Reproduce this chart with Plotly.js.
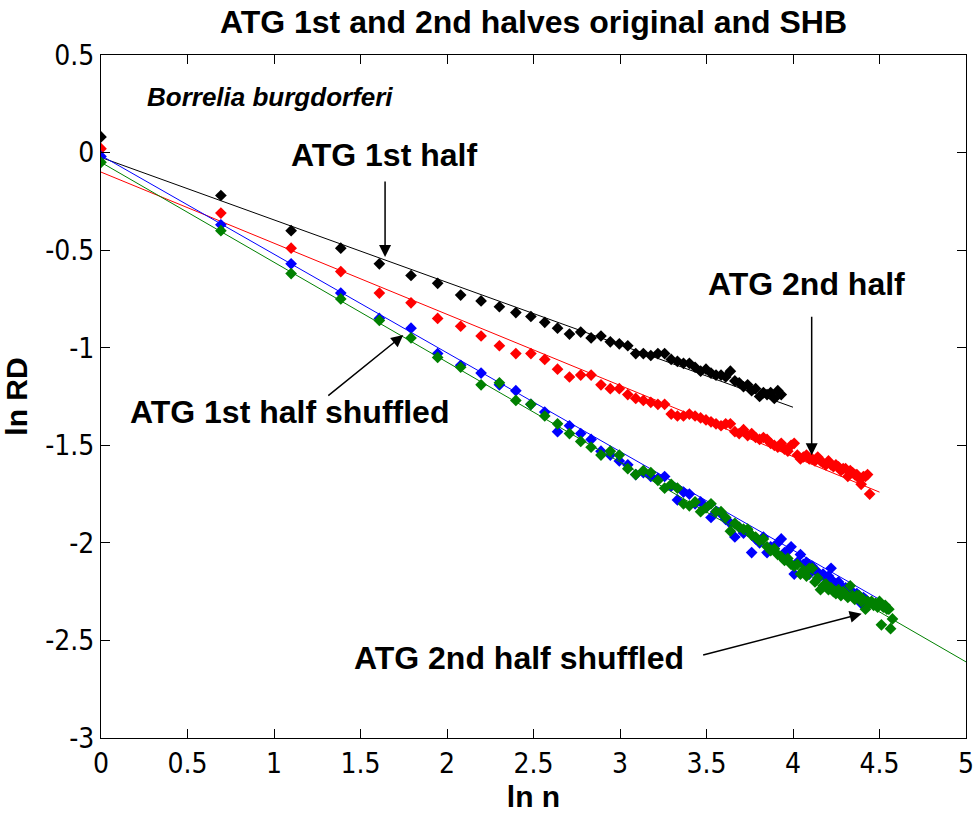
<!DOCTYPE html>
<html>
<head>
<meta charset="utf-8">
<script src="https://cdn.plot.ly/plotly-3.0.1.min.js"></script>
<style>
html,body{margin:0;padding:0;background:#fff;}
#chart{width:977px;height:815px;}
</style>
</head>
<body>
<div id="chart"></div>
<script>
// x positions: ln n for n = 1..97 (typed values)
const lnN = [0,0.693,1.099,1.386,1.609,1.792,1.946,2.079,2.197,2.303,
2.398,2.485,2.565,2.639,2.708,2.773,2.833,2.890,2.944,2.996,
3.045,3.091,3.135,3.178,3.219,3.258,3.296,3.332,3.367,3.401,
3.434,3.466,3.497,3.526,3.555,3.584,3.611,3.638,3.664,3.689,
3.714,3.738,3.761,3.784,3.807,3.829,3.850,3.871,3.892,3.912,
3.932,3.951,3.970,3.989,4.007,4.025,4.043,4.060,4.078,4.094,
4.111,4.127,4.143,4.159,4.174,4.190,4.205,4.220,4.234,4.248,
4.263,4.277,4.290,4.304,4.317,4.331,4.344,4.357,4.369,4.382,
4.394,4.407,4.419,4.431,4.443,4.454,4.466,4.477,4.489,4.500,
4.511,4.522,4.533,4.543,4.554,4.564,4.575];

const atg1 = [0.08,-0.22,-0.40,-0.49,-0.57,-0.63,-0.67,-0.73,-0.76,-0.79,
-0.82,-0.84,-0.87,-0.90,-0.93,-0.92,-0.95,-0.94,-0.97,-0.98,
-0.99,-1.03,-1.03,-1.04,-1.03,-1.03,-1.06,-1.07,-1.08,-1.08,
-1.10,-1.12,-1.11,-1.13,-1.14,-1.14,-1.15,-1.12,-1.17,-1.18,
-1.20,-1.19,-1.22,-1.21,-1.25,-1.23,-1.24,-1.23,-1.26,-1.22,-1.24];

const atg2 = [0.02,-0.31,-0.49,-0.61,-0.72,-0.77,-0.85,-0.89,-0.94,-0.99,
-1.03,-1.03,-1.06,-1.11,-1.15,-1.14,-1.14,-1.19,-1.21,-1.21,
-1.24,-1.26,-1.27,-1.28,-1.29,-1.29,-1.34,-1.35,-1.35,-1.34,
-1.35,-1.36,-1.37,-1.38,-1.39,-1.40,-1.39,-1.39,-1.43,-1.44,
-1.42,-1.45,-1.44,-1.46,-1.47,-1.46,-1.47,-1.49,-1.50,-1.51,
-1.49,-1.52,-1.53,-1.50,-1.49,-1.55,-1.57,-1.56,-1.55,-1.57,
-1.57,-1.58,-1.56,-1.58,-1.59,-1.60,-1.58,-1.60,-1.61,-1.60,
-1.61,-1.63,-1.62,-1.62,-1.66,-1.63,-1.64,-1.65,-1.65,-1.67,
-1.70,-1.66,-1.66,-1.65,-1.75];

const atg1Shuf = [-0.02,-0.37,-0.57,-0.72,-0.85,-0.90,-1.03,-1.09,-1.13,-1.19,
-1.22,-1.29,-1.33,-1.43,-1.40,-1.44,-1.47,-1.53,-1.55,-1.58,
-1.60,-1.65,-1.64,-1.66,-1.67,-1.66,-1.71,-1.78,-1.74,-1.75,
-1.80,-1.79,-1.82,-1.87,-1.84,-1.85,-1.88,-1.90,-1.97,-1.92,
-1.95,-1.94,-2.05,-1.98,-2.00,-1.97,-2.05,-2.02,-2.03,-2.00,
-1.98,-2.05,-2.04,-2.02,-2.16,-2.10,-2.06,-2.11,-2.10,-2.16,
-2.12,-2.14,-2.15,-2.17,-2.16,-2.18,-2.17,-2.13,-2.20,-2.21,
-2.20,-2.22,-2.24,-2.23,-2.25,-2.24,-2.26,-2.27,-2.26,-2.28,
-2.31,-2.28,-2.29,-2.30];

const atg2Shuf = [-0.05,-0.40,-0.62,-0.75,-0.86,-0.95,-1.05,-1.10,-1.19,-1.18,
-1.27,-1.29,-1.35,-1.39,-1.44,-1.48,-1.51,-1.55,-1.53,-1.55,
-1.62,-1.65,-1.63,-1.64,-1.68,-1.72,-1.70,-1.72,-1.80,-1.81,
-1.79,-1.84,-1.82,-1.80,-1.84,-1.84,-1.87,-1.94,-1.90,-1.92,
-1.93,-1.93,-1.96,-1.97,-1.99,-1.98,-2.02,-2.04,-2.03,-2.06,
-2.07,-2.09,-2.08,-2.11,-2.12,-2.11,-2.16,-2.14,-2.17,-2.13,
-2.13,-2.20,-2.18,-2.24,-2.22,-2.21,-2.24,-2.23,-2.25,-2.26,
-2.24,-2.27,-2.25,-2.26,-2.28,-2.22,-2.27,-2.29,-2.27,-2.27,
-2.30,-2.29,-2.34,-2.30,-2.31,-2.30,-2.32,-2.31,-2.33,-2.30,
-2.42,-2.33,-2.32,-2.34,-2.34,-2.44,-2.39];

// fitted regression lines (end points)
const fit1X = [0, 4.0],   fit1Y = [-0.025, -1.305];
const fit2X = [0, 4.5],   fit2Y = [-0.10, -1.74];
const fit1sX = [0, 4.5],  fit1sY = [-0.015, -2.29];
const fit2sX = [0, 5.0],  fit2sY = [-0.05, -2.61];

const xTicks = [0,0.5,1,1.5,2,2.5,3,3.5,4,4.5,5];
const xTickText = ["0","0.5","1","1.5","2","2.5","3","3.5","4","4.5","5"];
const yTicks = [-3,-2.5,-2,-1.5,-1,-0.5,0,0.5];
const yTickText = ["-3","-2.5","-2","-1.5","-1","-0.5","0","0.5"];

const colors = {k:"#000000", r:"#ff0000", b:"#0000ff", g:"#008000"};

function pts(y, color){
  return {x: lnN.slice(0, y.length), y: y, mode:"markers", type:"scatter",
    marker:{symbol:"diamond", size:9, color:color, line:{width:0}},
    hoverinfo:"skip", showlegend:false};
}
function fit(x, y, color){
  return {x:x, y:y, mode:"lines", type:"scatter",
    line:{color:color, width:1}, hoverinfo:"skip", showlegend:false};
}

const traces = [
  fit(fit1X, fit1Y, colors.k), pts(atg1, colors.k),
  fit(fit2X, fit2Y, colors.r), pts(atg2, colors.r),
  fit(fit1sX, fit1sY, colors.b), pts(atg1Shuf, colors.b),
  fit(fit2sX, fit2sY, colors.g), pts(atg2Shuf, colors.g)
];

const tickFont = {family:"Liberation Sans Narrow, Arial Narrow, DejaVu Sans Condensed, sans-serif", size:28, color:"#000"};
const annFont = {family:"Liberation Sans, Arial, sans-serif", size:32, color:"#000"};

function arrow(x, y, ax, ay){
  return {x:x, y:y, ax:ax, ay:ay, xref:"x", yref:"y", axref:"x", ayref:"y",
    text:"", showarrow:true, arrowhead:2, arrowsize:1.6, arrowwidth:1.5, arrowcolor:"#000"};
}
function label(x, y, t){
  return {x:x, y:y, xref:"x", yref:"y", text:"<b>"+t+"</b>", showarrow:false,
    font:annFont, xanchor:"center", yanchor:"middle"};
}

const layout = {
  width:977, height:815,
  margin:{l:101, r:11, t:55, b:77},
  paper_bgcolor:"#fff", plot_bgcolor:"#fff",
  title:{text:"<b>ATG 1st and 2nd halves original and SHB</b>",
    font:{family:"Liberation Sans, Arial, sans-serif", size:32, color:"#000"},
    x:0.5, xref:"paper", y:0.973, yref:"container", yanchor:"middle"},
  xaxis:{range:[0,5], tickvals:xTicks, ticktext:xTickText, ticks:"inside", ticklen:9,
    tickcolor:"#000", showline:true, linecolor:"#000", linewidth:1, mirror:"ticks",
    showgrid:false, zeroline:false, tickfont:tickFont,
    title:{text:"<b>ln n</b>", font:{family:"Liberation Sans, Arial, sans-serif", size:30, color:"#000"}, standoff:4}},
  yaxis:{range:[-3,0.5], tickvals:yTicks, ticktext:yTickText, ticks:"inside", ticklen:9,
    tickcolor:"#000", showline:true, linecolor:"#000", linewidth:1, mirror:"ticks",
    showgrid:false, zeroline:false, tickfont:tickFont,
    title:{text:"<b>ln RD</b>", font:{family:"Liberation Sans, Arial, sans-serif", size:30, color:"#000"}, standoff:8}},
  annotations:[
    {x:0.255, y:0.285, xref:"x", yref:"y", text:"<b><i>Borrelia burgdorferi</i></b>", showarrow:false,
      xanchor:"left", yanchor:"middle", font:{family:"Liberation Sans, Arial, sans-serif", size:26, color:"#000"}},
    label(1.633, -0.012, "ATG 1st half"),
    arrow(1.642, -0.535, 1.642, -0.141),
    label(4.078, -0.675, "ATG 2nd half"),
    arrow(4.108, -1.551, 4.108, -0.833),
    label(1.09, -1.33, "ATG 1st half shuffled"),
    arrow(1.747, -0.935, 1.305, -1.252),
    label(2.416, -2.59, "ATG 2nd half shuffled"),
    arrow(4.397, -2.363, 3.472, -2.577)
  ]
};

Plotly.newPlot("chart", traces, layout, {staticPlot:true, displayModeBar:false});
</script>
</body>
</html>
